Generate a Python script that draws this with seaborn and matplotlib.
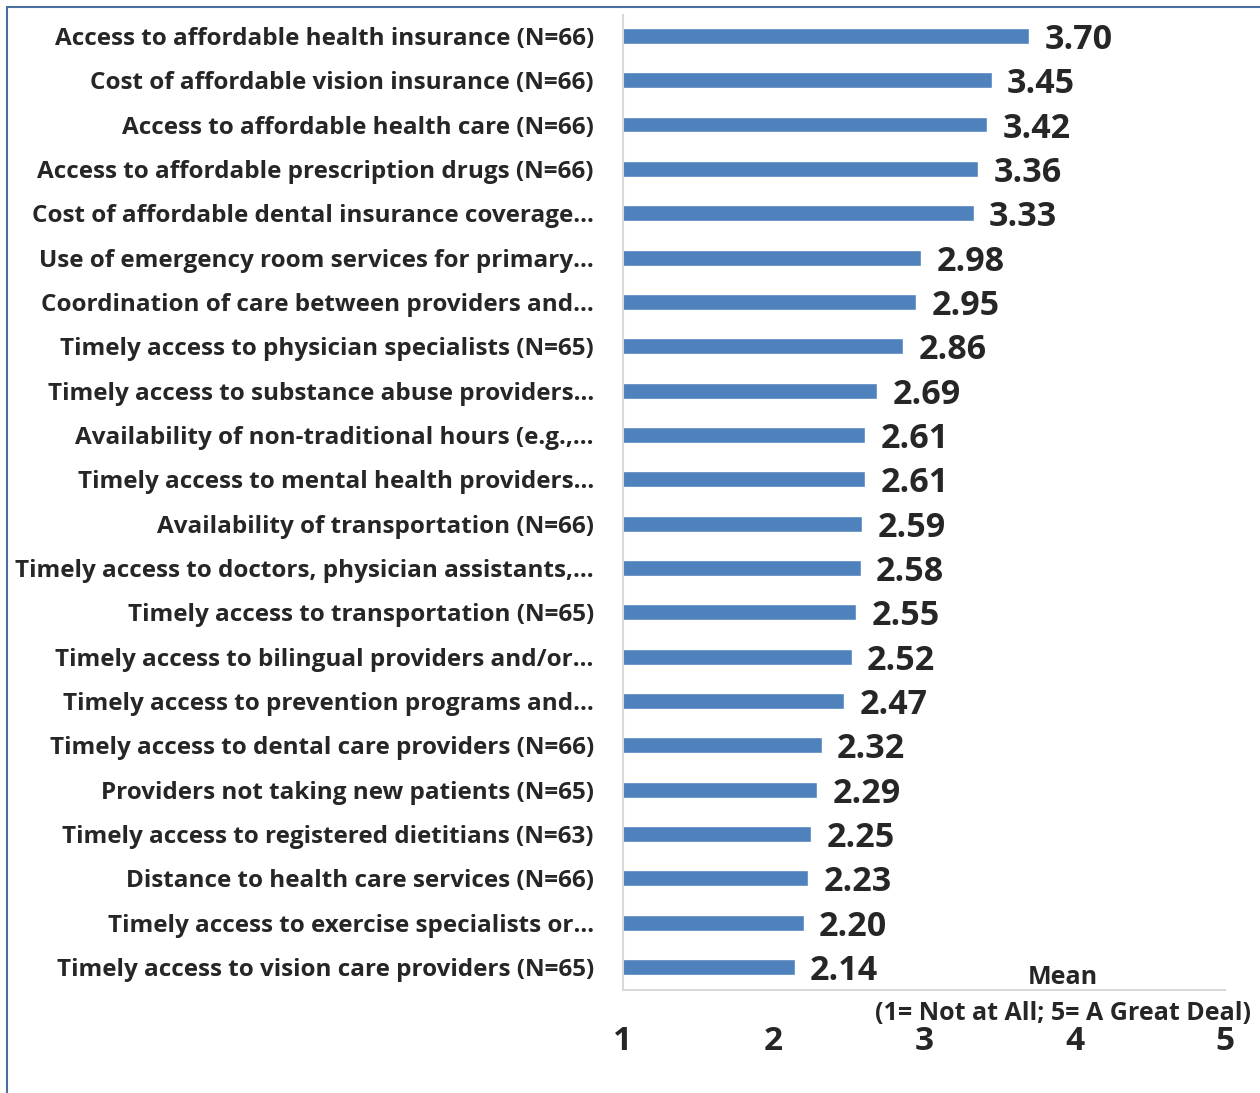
import pandas as pd
import matplotlib.pyplot as plt
import seaborn as sns
from matplotlib.patches import Rectangle

# data, top to bottom as in the chart
labels = [
    "Access to affordable health insurance (N=66)",
    "Cost of affordable vision insurance (N=66)",
    "Access to affordable health care (N=66)",
    "Access to affordable prescription drugs (N=66)",
    "Cost of affordable dental insurance coverage…",
    "Use of emergency room services for primary…",
    "Coordination of care between providers and…",
    "Timely access to physician specialists (N=65)",
    "Timely access to substance abuse providers…",
    "Availability of non-traditional hours (e.g.,…",
    "Timely access to mental health providers…",
    "Availability of transportation (N=66)",
    "Timely access to doctors, physician assistants,…",
    "Timely access to transportation (N=65)",
    "Timely access to bilingual providers and/or…",
    "Timely access to prevention programs and…",
    "Timely access to dental care providers (N=66)",
    "Providers not taking new patients (N=65)",
    "Timely access to registered dietitians (N=63)",
    "Distance to health care services (N=66)",
    "Timely access to exercise specialists or…",
    "Timely access to vision care providers (N=65)",
]
means = [3.70, 3.45, 3.42, 3.36, 3.33, 2.98, 2.95, 2.86, 2.69, 2.61, 2.61,
         2.59, 2.58, 2.55, 2.52, 2.47, 2.32, 2.29, 2.25, 2.23, 2.20, 2.14]
x_ticks = [1, 2, 3, 4, 5]

df = pd.DataFrame({"label": labels, "mean": means})

sns.set_style("white")
plt.rcParams["font.family"] = ["Open Sans", "DejaVu Sans"]
plt.rcParams["font.weight"] = "bold"

fig = plt.figure(figsize=(12.6, 10.93), dpi=100)
ax = fig.add_axes([623 / 1260, 1 - 990 / 1093, (1225 - 623) / 1260, 975 / 1093])

sns.barplot(data=df, x="mean", y="label", color="#4F81BD", width=0.36,
            saturation=1, ax=ax)

ax.set_xlim(1, 5)
ax.set_ylim(21.52, -0.47)
ax.set_xticks(x_ticks)
ax.set_xlabel("")
ax.set_ylabel("")

for lab in ax.get_yticklabels():
    lab.set_fontsize(17.5)
    lab.set_fontweight("bold")
ax.tick_params(axis="y", length=0, pad=21)
ax.tick_params(axis="x", direction="inout", length=16, width=1.5, color="#D9D9D9",
               labelsize=24, pad=17)
for lab in ax.get_xticklabels():
    lab.set_fontweight("bold")

for side in ["top", "right"]:
    ax.spines[side].set_visible(False)
for side in ["left", "bottom"]:
    ax.spines[side].set_color("#D9D9D9")
    ax.spines[side].set_linewidth(1.5)

vals = ax.bar_label(ax.containers[0], fmt="%.2f", padding=11, fontsize=24.5,
                    fontweight="bold")
for t in vals:
    t.xyann = (11, -3)  # sit a little lower, like the original

fig.text(1063 / 1260, 1 - 978 / 1093, "Mean", ha="center", va="center",
         fontsize=18, fontweight="bold")
fig.text(1063 / 1260, 1 - 1014 / 1093, "(1= Not at All; 5= A Great Deal)",
         ha="center", va="center", fontsize=18, fontweight="bold")

# outer chart border (runs off the right and bottom edges)
fig.patches.append(Rectangle((7 / 1260, -0.05), 1.1, 1 - 7 / 1093 + 0.05,
                             transform=fig.transFigure, fill=False,
                             edgecolor="#4A6F9F", linewidth=1.5))

fig.savefig("out.png", dpi=100)
